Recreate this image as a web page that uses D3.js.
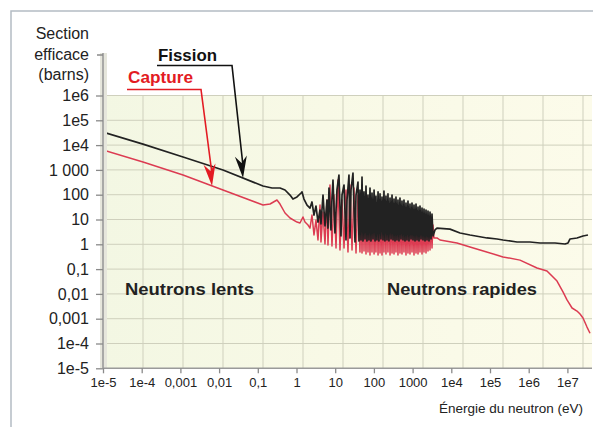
<!DOCTYPE html>
<html><head><meta charset="utf-8">
<script src="https://cdn.jsdelivr.net/npm/d3@7"></script>
<style>
html,body{margin:0;padding:0;background:#fff;}
svg{display:block;font-family:"Liberation Sans",Arial,Helvetica,sans-serif;}
</style></head><body>
<svg id="c" width="593" height="427"></svg>
<script>
// ---------- DATA ----------
const xTickValues = [1e-5,1e-4,1e-3,1e-2,1e-1,1,10,100,1000,1e4,1e5,1e6,1e7];
const xTickLabels = ["1e-5","1e-4","0,001","0,01","0,1","1","10","100","1000","1e4","1e5","1e6","1e7"];
const yTickValues = [1e-5,1e-4,1e-3,1e-2,1e-1,1,10,100,1000,1e4,1e5,1e6];
const yTickLabels = ["1e-5","1e-4","0,001","0,01","0,1","1","10","100","1 000","1e4","1e5","1e6"];
const yTitleLines = ["Section","efficace","(barns)"];
const xTitle = "Énergie du neutron (eV)";
const seriesNames = ["Fission","Capture"];
const regionLabels = ["Neutrons lents","Neutrons rapides"];

// Fission cross-section (barns) vs neutron energy (eV)
const fissionEnergy = [1e-5,1.08e-4,1.17e-3,0.0126,0.136,0.233,0.375,0.505,0.68,0.81,1.03,1.31,1.39,1.56,1.87,2.23,
 2.51,2.83,3.19,3.59,4.05,4.29,4.84,5.45,6.13,6.51,6.91,7.78,8.26,8.77,9.87,11.1,12.5,14.1,15.0,16.9,19.0,20.2,22.7,24.1,25.6,28.8,32.5,34.5,38.8,41.2,
 43.7,46.4,49.3,52.3,55.5,58.9,62.5,66.3,70.4,74.7,79.3,84.1,89.3,94.8,101,107,113,120,128,135,144,152,162,172,182,193,205,218,231,245,261,277,294,312,331,351,372,395,419,445,472,501,532,565,599,636,675,716,760,807,856,910,965,1025,1087,1154,1225,1300,1380,1464,1553,1649,1750,1857,1971,2092,2220,2356,2500,2654,2817,2989,3172,3367,
 3790,4270,9250,16800,30400,83600,152000,217000,499000,1.08e6,1.96e6,4.79e6,8.67e6,1.04e7,1.17e7,1.77e7,2.53e7,3.40e7];
const fissionSigma = [33700,11000,3310,990,224,186,186,155,97,67,81,117,129,67,38,29,
 51,15,35,7.9,24,6.6,97,5.5,61,4.5,186,3.8,73.5,392,2.85,155,623,2.16,97,246,1.49,61,623,1.8,155,750,1.24,97,325,1.36,
 155,1.49,517,1.36,129,1.64,224,1.36,97,1.49,186,1.36,117,1.64,155,1.36,88.5,1.49,129,1.36,107,1.64,80.6,1.49,141,1.36,88.5,1.49,107,1.36,73.5,1.64,97,1.49,67,1.36,80.6,1.49,61,1.36,73.5,1.64,55.6,1.49,61,1.36,46.2,1.49,55.6,1.36,42.1,1.64,46.2,1.49,38.4,1.36,42.1,1.49,31.9,1.36,35,1.64,29.1,1.49,26.5,1.36,24.1,1.49,22,1.36,20,1.64,16.6,2.16,
 3.8,4.5,4.1,2.85,2.37,1.80,1.64,1.49,1.24,1.24,1.13,1.13,1.03,1.13,1.64,1.80,2.16,2.37];

// Radiative capture cross-section (barns) vs neutron energy (eV)
const captureEnergy = [1e-5,1.08e-4,1.17e-3,0.0126,0.136,0.207,0.313,0.375,0.505,0.68,1.03,1.23,1.47,1.66,1.98,2.23,
 2.51,2.83,3.19,3.59,4.05,4.29,4.84,5.45,6.13,6.51,7.33,8.26,9.30,10.5,11.8,13.3,15.0,16.9,19.0,21.4,24.1,27.2,30.6,34.5,38.8,43.7,
 46.4,49.3,52.3,55.5,58.9,62.5,66.3,70.4,74.7,79.3,84.1,89.3,94.8,101,107,113,120,128,135,144,152,162,172,182,193,205,218,231,245,261,277,294,312,331,351,372,395,419,445,472,501,532,565,599,636,675,716,760,807,856,910,965,1025,1087,1154,1225,1300,1380,1464,1553,1649,1750,1857,1971,2092,2220,2356,2500,2654,2817,2989,3172,3367,3570,
 4270,5100,14000,30400,55200,217000,596000,1.64e6,2.97e6,5.39e6,7.69e6,9.77e6,1.32e7,1.77e7,2.12e7,2.53e7,3.21e7,3.84e7];
const captureSigma = [6340,2080,623,155,38.4,42.1,61,42.1,18.3,11.5,7.9,7.2,12.6,7.9,6.0,4.5,
 15.2,2.37,9.5,1.49,38.4,1.24,20,1.03,61,0.94,246,0.86,97,0.71,392,0.59,61,0.71,155,0.49,246,0.59,186,0.45,97,0.49,
 73.5,0.45,97,0.54,61,0.41,88.5,0.49,50.7,0.37,73.5,0.49,46.2,0.41,61,0.49,42.1,0.37,55.6,0.45,38.4,0.37,50.7,0.49,35,0.41,42.1,0.49,31.9,0.37,38.4,0.45,29.1,0.41,35,0.49,26.5,0.37,29.1,0.45,24.1,0.41,26.5,0.49,20,0.37,22,0.45,18.3,0.41,20,0.49,16.6,0.37,18.3,0.45,15.2,0.41,16.6,0.49,13.8,0.41,15.2,0.49,12.6,0.45,11.5,0.54,10.5,0.59,9.5,0.71,6.0,1.80,
 1.80,1.49,1.13,0.78,0.59,0.31,0.23,0.111,0.084,0.033,0.012,0.0057,0.0027,0.00204,0.00155,0.00107,4.6e-4,2.6e-4];

// annotation anchor points (energy, barns) that the arrows point to
const fissionArrowAt = [0.0415, 471];
const captureArrowAt = [0.00656, 224];

// ---------- CHART ----------
const svg = d3.select("#c");
const W = 593, H = 427;
const plot = {left:103, right:592, top:95.5, bottom:368.3};

const x = d3.scaleLog().domain([1e-5,1e7]).range([103,567.4]);
const xGrid = d3.scaleLog().domain([1e-5,1e7]).range([103,583]);
const y = d3.scaleLog().domain([1e-5,1e6]).range([368.3,95.5]);

// outer frame
svg.append("rect").attr("x",11).attr("y",11).attr("width",W).attr("height",H)
  .attr("fill","#fff").attr("stroke","#b4bcc4").attr("stroke-width",1.5);

// plot background
const defs = svg.append("defs");
const grad = defs.append("linearGradient").attr("id","bg").attr("x1","0").attr("x2","1").attr("y1","0").attr("y2","0");
grad.append("stop").attr("offset","0").attr("stop-color","#f3f7e3");
grad.append("stop").attr("offset","0.45").attr("stop-color","#f8f9e6");
grad.append("stop").attr("offset","1").attr("stop-color","#fcfbea");
svg.append("rect").attr("x",plot.left).attr("y",plot.top)
  .attr("width",plot.right-plot.left).attr("height",plot.bottom-plot.top).attr("fill","url(#bg)");

defs.append("clipPath").attr("id","clip").append("rect")
  .attr("x",plot.left).attr("y",plot.top-2).attr("width",plot.right-plot.left).attr("height",plot.bottom-plot.top+2);

// grid
const grid = svg.append("g").attr("stroke","#cfd0bd").attr("stroke-width",1);
grid.selectAll("line.h").data(yTickValues.slice(1)).join("line")
  .attr("x1",plot.left).attr("x2",plot.right).attr("y1",d=>y(d)).attr("y2",d=>y(d));
grid.selectAll("line.v").data(xTickValues.slice(1)).join("line")
  .attr("x1",d=>xGrid(d)).attr("x2",d=>xGrid(d)).attr("y1",plot.top).attr("y2",plot.bottom);

// series
const line = d3.line().x(d=>x(d[0])).y(d=>y(d[1]));
const cap = captureEnergy.map((e,i)=>[e,captureSigma[i]]);
const fis = fissionEnergy.map((e,i)=>[e,fissionSigma[i]]);
const gData = svg.append("g").attr("clip-path","url(#clip)");
gData.append("path").datum(cap).attr("d",line).attr("fill","none")
  .attr("stroke","#dc3c52").attr("stroke-width",1.5).attr("stroke-linejoin","round");
gData.append("path").datum(fis).attr("d",line).attr("fill","none")
  .attr("stroke","#222").attr("stroke-width",1.7).attr("stroke-linejoin","round");

// axes
svg.append("rect").attr("x",100).attr("y",53).attr("width",7).attr("height",plot.bottom-53).attr("fill","#e6e6dc");
svg.append("line").attr("x1",103).attr("x2",103).attr("y1",53).attr("y2",plot.bottom)
  .attr("stroke","#9a9a9a").attr("stroke-width",1.6);
svg.append("line").attr("x1",97).attr("x2",103).attr("y1",55).attr("y2",55)
  .attr("stroke","#8a8a8a").attr("stroke-width",1.5);

const yAxis = svg.append("g").attr("transform",`translate(103,0)`)
  .call(d3.axisLeft(y).tickValues(yTickValues).tickFormat((d,i)=>yTickLabels[i]).tickSize(7).tickPadding(7));
yAxis.select(".domain").remove();
yAxis.selectAll(".tick line").attr("stroke","#8a8a8a").attr("stroke-width",1.3);
yAxis.selectAll(".tick text").attr("font-size","16px").attr("fill","#222").attr("font-family","Liberation Sans, Arial, sans-serif");

svg.append("line").attr("x1",103).attr("x2",plot.right).attr("y1",plot.bottom).attr("y2",plot.bottom)
  .attr("stroke","#9a9a9a").attr("stroke-width",1.6);
const xAxis = svg.append("g").attr("transform",`translate(0,${plot.bottom})`)
  .call(d3.axisBottom(x).tickValues(xTickValues).tickFormat((d,i)=>xTickLabels[i]).tickSize(5).tickPadding(4));
xAxis.select(".domain").remove();
xAxis.selectAll(".tick line").attr("stroke","#8a8a8a").attr("stroke-width",1.3);
xAxis.selectAll(".tick text").attr("font-size","13px").attr("fill","#222").attr("font-family","Liberation Sans, Arial, sans-serif");

// titles
const yt = svg.append("g").attr("font-size","16px").attr("fill","#222").attr("text-anchor","end");
yTitleLines.forEach((t,i)=>yt.append("text").attr("x",89).attr("y",39+i*20.5).text(t));
svg.append("text").attr("x",583).attr("y",413).attr("text-anchor","end")
  .attr("font-size","13.5px").attr("fill","#222").text(xTitle);

// region labels
svg.append("text").attr("x",125).attr("y",295).attr("font-weight","bold").attr("font-size","17px")
  .attr("fill","#222").attr("textLength",129).attr("lengthAdjust","spacingAndGlyphs").text(regionLabels[0]);
svg.append("text").attr("x",387).attr("y",295).attr("font-weight","bold").attr("font-size","17px")
  .attr("fill","#222").attr("textLength",150).attr("lengthAdjust","spacingAndGlyphs").text(regionLabels[1]);

// legend annotations with arrows
function arrow(color, label, lx, ly, lineStartX, lineEndX, lineY, tip, tlen){
  svg.append("text").attr("x",lx).attr("y",ly).attr("font-weight","bold").attr("font-size","17px")
    .attr("fill",color).attr("textLength",tlen).attr("lengthAdjust","spacingAndGlyphs").text(label);
  const tx = x(tip[0]), ty = y(tip[1]);
  svg.append("path").attr("d",`M${lineStartX},${lineY}H${lineEndX}L${tx},${ty-12}`)
    .attr("fill","none").attr("stroke",color).attr("stroke-width",1.6);
  const ang = Math.atan2(ty-lineY, tx-lineEndX)*180/Math.PI - 90;
  svg.append("path").attr("d","M0,0L-6,-22L0,-15L6,-22Z").attr("fill",color)
    .attr("transform",`translate(${tx},${ty}) rotate(${ang})`);
}
arrow("#111", seriesNames[0], 158, 61, 157, 232, 65.5, fissionArrowAt, 59);
arrow("#e31b23", seriesNames[1], 128, 83, 127, 201, 89.5, captureArrowAt, 65);
</script>
</body></html>
